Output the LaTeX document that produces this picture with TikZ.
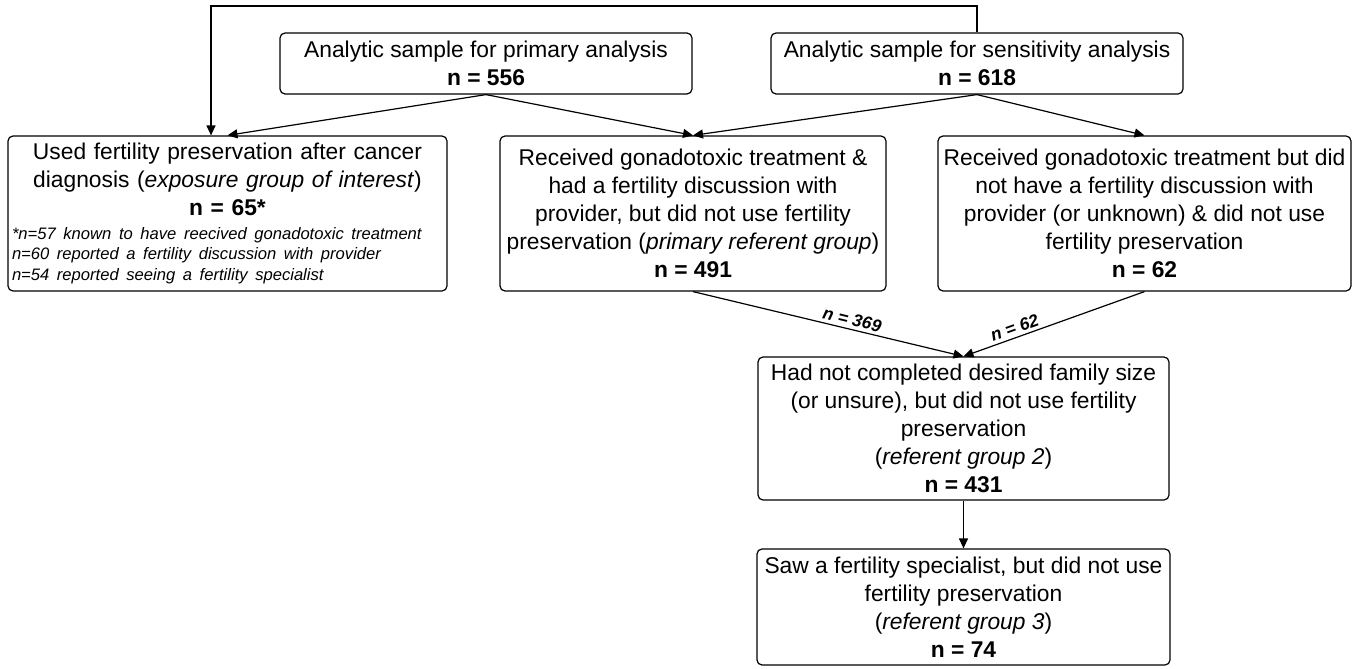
\documentclass[tikz,border=0pt]{standalone}
\usepackage{fontspec}
\setmainfont{Liberation Sans}
\usetikzlibrary{arrows.meta}
\newcommand{\mainsz}{\fontsize{11.4}{14}\selectfont}
\newcommand{\notesz}{\fontsize{8.7}{10.25}\selectfont}
\newcommand{\footsz}{\fontsize{8.3}{10.25}\selectfont}
\begin{document}
\begin{tikzpicture}[x=0.5pt, y=-0.5pt,
box/.style={draw, line width=0.6pt, rounded corners=2.5pt, align=center,
  inner sep=0pt, font=\mainsz},
arr/.style={line width=0.6pt, -{Triangle[length=5pt, width=4.5pt]}},
lbl/.style={font=\notesz\bfseries\itshape, sloped, above, inner sep=1.5pt}
]
\useasboundingbox (0,0) rectangle (1367,669);

% top row
\node[box, minimum width=206pt, minimum height=30.5pt] (prim) at (486,63.5)
  {Analytic sample for primary analysis\\ \textbf{n = 556}};
\node[box, minimum width=206pt, minimum height=30.5pt] (sens) at (977,63.5)
  {Analytic sample for sensitivity analysis\\ \textbf{n = 618}};

% second row
\node[box, text width=215.5pt, inner xsep=2pt, minimum height=77.5pt] (expo) at (227.5,213.5)
  {\centering Used fertility preservation after cancer\\
   diagnosis (\textit{exposure group of interest})\\
   \textbf{n = 65*}\par
   \vspace{1.5pt}
   \raggedright\footsz\itshape
   *n=57 known to have reecived gonadotoxic treatment\\
   n=60 reported a fertility discussion with provider\\
   n=54 reported seeing a fertility specialist\par};
\node[box, minimum width=193pt, minimum height=77.5pt] (refone) at (693,213.5)
  {Received gonadotoxic treatment \&\\
   had a fertility discussion with\\
   provider, but did not use fertility\\
   preservation (\textit{primary referent group})\\
   \textbf{n = 491}};
\node[box, minimum width=206.5pt, minimum height=77.5pt] (other) at (1144.5,213.5)
  {Received gonadotoxic treatment but did\\
   not have a fertility discussion with\\
   provider (or unknown) \& did not use\\
   fertility preservation\\
   \textbf{n = 62}};

% lower boxes
\node[box, minimum width=205.5pt, minimum height=71.5pt] (reftwo) at (963.5,428.5)
  {Had not completed desired family size\\
   (or unsure), but did not use fertility\\
   preservation\\
   (\textit{referent group 2})\\
   \textbf{n = 431}};
\node[box, minimum width=206.5pt, minimum height=58pt] (refthree) at (963.5,607)
  {Saw a fertility specialist, but did not use\\
   fertility preservation\\
   (\textit{referent group 3})\\
   \textbf{n = 74}};

% connectors
\coordinate (bend) at (211,6);
\draw[arr] (sens.north) |- (bend) -- (bend |- expo.north);
\draw[arr] (prim.south) -- (expo.north);
\draw[arr] (prim.south) -- (refone.north);
\draw[arr] (sens.south) -- (refone.north);
\draw[arr] (sens.south) -- (other.north);
\draw[arr] (refone.south) -- node[lbl, pos=0.58] {n = 369} (reftwo.north);
\draw[arr] (other.south) -- node[lbl, pos=0.7] {n = 62} (reftwo.north);
\draw[arr] (reftwo.south) -- (refthree.north);
\end{tikzpicture}
\end{document}
